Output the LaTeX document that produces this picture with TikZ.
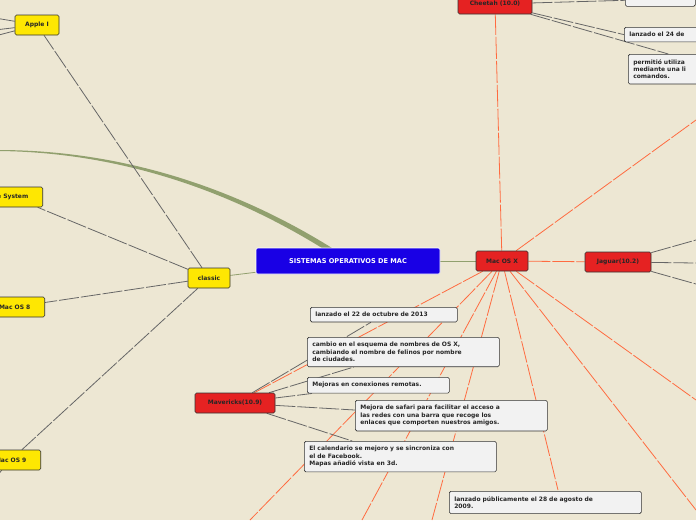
\documentclass[tikz,border=0pt]{standalone}
\usepackage{fontspec}
\setmainfont{DejaVu Sans}
\usetikzlibrary{backgrounds}
\definecolor{paper}{RGB}{237,231,211}
\definecolor{branch}{RGB}{145,160,110}
\begin{document}
\begin{tikzpicture}[x=1pt,y=-1pt,font=\bfseries\fontsize{6}{7.4}\selectfont,
  topic/.style={rectangle,draw=black!80,rounded corners=1.5pt,line width=0.6pt,inner sep=2pt},
  yellowbox/.style={topic,fill=yellow!90!orange,minimum height=20,text=black!85},
  redbox/.style={topic,fill=red!80!pink!90!black,minimum height=20,text=black!85},
  note/.style={topic,fill=gray!10,text=black!85,align=left,inner sep=5pt,text width=#1},
  greyline/.style={draw=black!60,line width=0.8pt,dash pattern=on 20pt off 2pt},
  redline/.style={draw=red!55!orange!75,line width=0.8pt,dash pattern=on 22pt off 2pt},
  greenline/.style={draw=branch,line width=0.8pt}]
\useasboundingbox (0,0) rectangle (696,520);
% off-picture ends
\coordinate (offleft) at (-2,151);
\coordinate (a1) at (-5,18); \coordinate (a2) at (-5,30); \coordinate (a3) at (-5,36);
\coordinate (m9) at (-5,478);
\coordinate (r1) at (696,120); \coordinate (r2) at (696,400); \coordinate (r3) at (696,510);
\coordinate (b1) at (250,520); \coordinate (b2) at (362,520); \coordinate (b3) at (432,520);
\coordinate (b4) at (558,490);
\coordinate (j1) at (696,240); \coordinate (j2) at (696,263); \coordinate (j3) at (696,284);
% main
\node[topic,fill=blue!80!violet,draw=white,text=white,minimum width=184,minimum height=26,font=\bfseries\fontsize{6.6}{7}\selectfont] (root) at (348,261) {SISTEMAS OPERATIVOS DE MAC};
\node[yellowbox,minimum width=42] (classic) at (209,278) {classic};
\node[yellowbox,minimum width=44] (apple) at (37,25) {Apple I};
\node[yellowbox,minimum width=60,anchor=east] (system) at (43,197) {\hfill e System};
\node[yellowbox,minimum width=60,anchor=east] (os8) at (45,307) {\hfill Mac OS 8};
\node[yellowbox,minimum width=60,anchor=east] (os9) at (41,460) {\hfill Mac OS 9};
\node[redbox,minimum width=52] (osx) at (502,261) {Mac OS X};
\node[redbox,minimum width=74] (cheetah) at (495,4) {Cheetah (10.0)};
\node[redbox,minimum width=66] (jaguar) at (618,262) {Jaguar(10.2)};
\node[redbox,minimum width=80] (maverick) at (235,403) {Mavericks(10.9)};
% notes
\node[note=60,anchor=north west,minimum height=12] (n0) at (625,-6) {};
\node[note=70,anchor=north west] (n1) at (624,27) {lanzado el 24 de};
\node[note=70,anchor=north west] (n2) at (628,54) {permitió utiliza\\mediante una li\\comandos.};
\node[note=137,anchor=north west] (n3) at (310,307) {lanzado el 22 de octubre de 2013};
\node[note=182,anchor=north west] (n4) at (307,337) {cambio en el esquema de nombres de OS X,\\cambiando el nombre de felinos por nombre\\de ciudades.};
\node[note=132,anchor=north west] (n5) at (307,377) {Mejoras en conexiones remotas.};
\node[note=182,anchor=north west] (n6) at (355,400) {Mejora de safari para facilitar el acceso a\\las redes con una barra que recoge los\\enlaces que comporten nuestros amigos.};
\node[note=182,anchor=north west] (n7) at (304,441) {El calendario se mejoro y se sincroniza con\\el de Facebook.\\Mapas añadió vista en 3d.};
\node[note=182,anchor=north west] (n8) at (449,491) {lanzado públicamente el 28 de agosto de\\2009.};
% connectors
\begin{pgfonlayer}{background}
\fill[paper] (0,0) rectangle (696,520);
\fill[branch] (322,248) .. controls (220,185) and (110,152) .. (offleft) -- (-2,150) .. controls (112,150) and (226,182) .. (332,248) -- cycle;
\draw[greenline] (root) -- (classic);
\draw[greenline] (root) -- (osx);
\foreach \t in {apple,system,os8,os9} \draw[greyline] (classic) -- (\t);
\draw[greyline] (os9) -- (m9);
\foreach \t in {a1,a2,a3} \draw[greyline] (apple) -- (\t);
\foreach \t in {cheetah,jaguar,maverick,r1,r2,r3,b1,b2,b3,b4} \draw[redline] (osx) -- (\t);
\draw[greyline] (cheetah) -- (n0.west);
\draw[greyline] (cheetah) -- (n1.west);
\draw[greyline] (cheetah) -- (n2.north);
\foreach \t in {j1,j2,j3} \draw[greyline] (jaguar) -- (\t);
\foreach \t in {n3,n4,n5,n6,n7} \draw[greyline] (maverick) -- (\t);
\end{pgfonlayer}
\end{tikzpicture}
\end{document}
